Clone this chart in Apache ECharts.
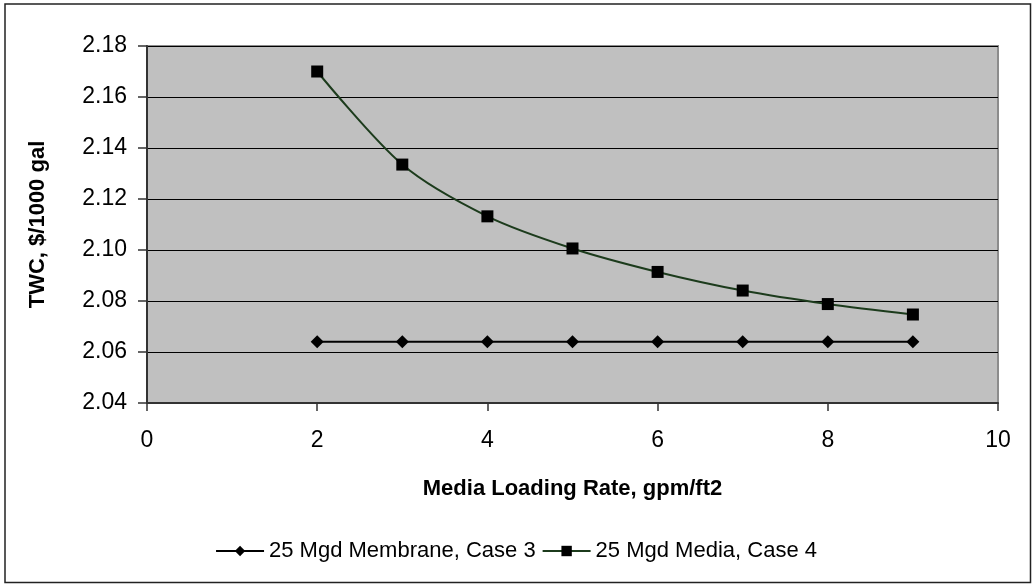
<!DOCTYPE html>
<html>
<head>
<meta charset="utf-8">
<title>TWC vs Media Loading Rate</title>
<script src="https://cdn.jsdelivr.net/npm/echarts@6/dist/echarts.min.js"></script>
<style>
  html, body { margin: 0; padding: 0; background: #ffffff; }
  #chart { width: 1032px; height: 584px; }
</style>
</head>
<body>
<div id="chart"></div>
<script>
// Media loading rate, gpm/ft2
const loadingRates = [2, 3, 4, 5, 6, 7, 8, 9];
// Total water cost, $/1000 gal
const membraneCase3 = [2.064, 2.064, 2.064, 2.064, 2.064, 2.064, 2.064, 2.064];
const mediaCase4 = [2.170, 2.1335, 2.1132, 2.1006, 2.0914, 2.0841, 2.0788, 2.0747];
const seriesNames = ['25 Mgd Membrane, Case 3', '25 Mgd Media, Case 4'];
const yTicks = { min: 2.04, max: 2.18, step: 0.02 };
const xTicks = { min: 0, max: 10, step: 2 };

const pairs = (xs, ys) => xs.map((x, i) => [x, ys[i]]);
const font = 'Liberation Sans, Arial, sans-serif';

const chart = echarts.init(document.getElementById('chart'), null, { renderer: 'canvas' });
chart.setOption({
  animation: false,
  backgroundColor: '#ffffff',
  graphic: [{
    type: 'rect',
    shape: { x: 5, y: 4, width: 1025.5, height: 578.5 },
    style: { fill: 'none', stroke: '#222222', lineWidth: 1.5 },
    silent: true
  }],
  grid: {
    left: 147, right: 34, top: 46, bottom: 181,
    show: true, backgroundColor: '#c0c0c0', borderColor: '#8c8c8c', borderWidth: 2
  },
  legend: {
    bottom: 17, left: 'center',
    itemWidth: 48, itemHeight: 13, itemGap: 6,
    textStyle: { fontFamily: font, fontSize: 22, color: '#000000' },
    data: seriesNames
  },
  xAxis: {
    type: 'value', min: xTicks.min, max: xTicks.max, interval: xTicks.step,
    name: 'Media Loading Rate, gpm/ft2', nameLocation: 'middle', nameGap: 75,
    nameTextStyle: { fontFamily: font, fontSize: 22, fontWeight: 'bold', color: '#000000' },
    axisLine: { lineStyle: { color: '#333333', width: 2 } },
    axisTick: { show: true, inside: false, length: 8, lineStyle: { color: '#333333', width: 1.5 } },
    axisLabel: { fontFamily: font, fontSize: 23, color: '#000000', margin: 26 },
    splitLine: { show: false }
  },
  yAxis: {
    type: 'value', min: yTicks.min, max: yTicks.max, interval: yTicks.step,
    name: 'TWC, $/1000 gal', nameLocation: 'middle', nameGap: 98,
    nameTextStyle: { fontFamily: font, fontSize: 22, fontWeight: 'bold', color: '#000000' },
    axisLine: { show: true, lineStyle: { color: '#333333', width: 2 } },
    axisTick: { show: true, inside: false, length: 9, lineStyle: { color: '#333333', width: 1.5 } },
    axisLabel: {
      fontFamily: font, fontSize: 23, color: '#000000', margin: 20,
      formatter: v => v.toFixed(2)
    },
    splitLine: { show: true, lineStyle: { color: '#000000', width: 1.2 } }
  },
  series: [
    {
      name: seriesNames[0], type: 'line',
      data: pairs(loadingRates, membraneCase3),
      symbol: 'diamond', symbolSize: [13, 13],
      itemStyle: { color: '#000000' },
      lineStyle: { color: '#000000', width: 2 },
      z: 3
    },
    {
      name: seriesNames[1], type: 'line',
      data: pairs(loadingRates, mediaCase4),
      smooth: 0.3,
      symbol: 'rect', symbolSize: 12,
      itemStyle: { color: '#000000' },
      lineStyle: { color: '#1c3b1c', width: 2 },
      z: 4
    }
  ]
});
</script>
</body>
</html>
